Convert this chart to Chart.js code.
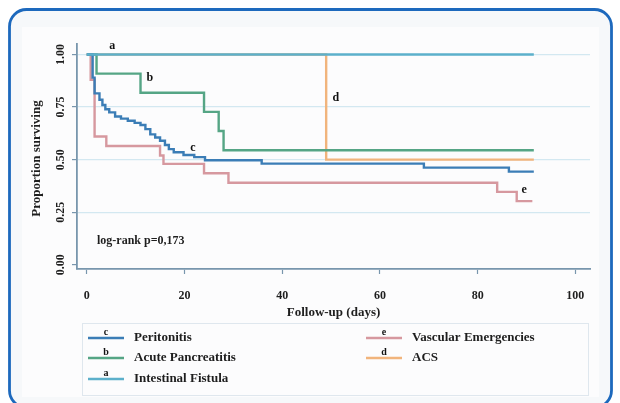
<!DOCTYPE html>
<html><head><meta charset="utf-8">
<script src="https://cdn.jsdelivr.net/npm/chart.js@4/dist/chart.umd.min.js"></script>
<style>html,body{margin:0;padding:0;background:#fff;overflow:hidden}#wrap{position:relative;width:620px;height:403px}canvas{display:block}</style>
</head><body><div id="wrap"><canvas id="c" width="620" height="403"></canvas></div>
<script>
// ---- data ----
const seriesNames   = ['Peritonitis', 'Acute Pancreatitis', 'Intestinal Fistula', 'Vascular Emergencies', 'ACS'];
const seriesLetters = ['c', 'b', 'a', 'e', 'd'];
const peritonitisDays = [0, 1.2, 1.6, 2.6, 3.2, 3.8, 4.6, 5.8, 7, 8.4, 9.8, 11, 12, 13, 14, 15, 16, 16.8, 17.8, 19.8, 22, 24.2, 35.8, 69, 86.4, 91.5];
const peritonitisSurv = [1, 0.89, 0.815, 0.785, 0.76, 0.74, 0.725, 0.705, 0.695, 0.685, 0.675, 0.665, 0.645, 0.62, 0.605, 0.59, 0.57, 0.55, 0.535, 0.522, 0.512, 0.497, 0.481, 0.462, 0.443, 0.443];
const pancreatitisDays = [0, 2, 11, 24, 27, 28, 91.5];
const pancreatitisSurv = [1, 0.909, 0.818, 0.727, 0.636, 0.545, 0.545];
const fistulaDays = [0, 91.5];
const fistulaSurv = [1, 1];
const vascularDays = [0, 0.8, 1.6, 4, 15, 15.7, 24, 29, 84, 88, 91.2];
const vascularSurv = [1, 0.88, 0.61, 0.565, 0.52, 0.48, 0.435, 0.39, 0.347, 0.303, 0.303];
const acsDays = [0, 49, 91.5];
const acsSurv = [1, 0.5, 0.5];
const xTicks = [0, 20, 40, 60, 80, 100];
const yTicks = [0, 0.25, 0.5, 0.75, 1];
const yTickLabels = ['0.00', '0.25', '0.50', '0.75', '1.00'];
const xTitle = 'Follow-up (days)';
const yTitle = 'Proportion surviving';
const noteText = 'log-rank p=0,173';

// ---- styles ----
const colors = ['#3b7db6', '#55a585', '#5cb0cb', '#d6989f', '#f1b47c'];
const axisColor = '#7896ad';
const gridColor = '#d3e8f1';
const textColor = '#1e1e1e';
const serif = '"Liberation Serif", "DejaVu Serif", serif';

const days = [peritonitisDays, pancreatitisDays, fistulaDays, vascularDays, acsDays];
const surv = [peritonitisSurv, pancreatitisSurv, fistulaSurv, vascularSurv, acsSurv];
const drawOrder = [1, 2, 0, 3, 4];

const datasets = seriesNames.map((name, i) => ({
  label: name,
  data: days[i].map((d, k) => ({x: d, y: surv[i][k]})),
  borderColor: colors[i],
  backgroundColor: colors[i],
  borderWidth: 2.4,
  pointRadius: 0,
  stepped: true,
  fill: false,
  order: drawOrder[i]
}));

// label anchors in data units
const curveLabels = [
  {t: 'c', x: 21.7, y: 0.555},
  {t: 'b', x: 12.9, y: 0.888},
  {t: 'a', x: 5.2, y: 1.04},
  {t: 'e', x: 89.5, y: 0.356},
  {t: 'd', x: 51, y: 0.793}
];

const framePlugin = {
  id: 'frame',
  beforeDraw(chart) {
    const ctx = chart.ctx;
    ctx.save();
    ctx.fillStyle = '#ffffff';
    ctx.fillRect(0, 0, chart.width, chart.height);
    ctx.beginPath();
    ctx.roundRect(9.5, 9.5, 602, 398, 17);
    ctx.fillStyle = '#f6f8fa';
    ctx.fill();
    ctx.fillStyle = '#fcfcfd';
    ctx.fillRect(22, 27, 577, 370);
    ctx.lineWidth = 2.8;
    ctx.strokeStyle = '#1d69bd';
    ctx.beginPath();
    ctx.roundRect(9.5, 9.5, 602, 398, 17);
    ctx.stroke();
    ctx.restore();
  }
};

const textPlugin = {
  id: 'texts',
  afterDraw(chart) {
    const ctx = chart.ctx;
    const xs = chart.scales.x, ys = chart.scales.y;
    ctx.save();
    ctx.fillStyle = textColor;
    // y tick labels, rotated
    ctx.font = 'bold 12px ' + serif;
    ctx.textAlign = 'center';
    ctx.textBaseline = 'middle';
    yTicks.forEach((v, i) => {
      ctx.save();
      ctx.translate(61, ys.getPixelForValue(v));
      ctx.rotate(-Math.PI / 2);
      ctx.fillText(yTickLabels[i], 0, 0);
      ctx.restore();
    });
    // axis titles
    ctx.font = 'bold 13px ' + serif;
    ctx.save();
    ctx.translate(37, (ys.top + ys.bottom) / 2 + 2);
    ctx.rotate(-Math.PI / 2);
    ctx.fillText(yTitle, 0, 0);
    ctx.restore();
    ctx.fillText(xTitle, (xs.left + xs.right) / 2, 313);
    // note
    ctx.font = 'bold 12px ' + serif;
    ctx.textAlign = 'left';
    ctx.fillText(noteText, 97, 241);
    // curve letters
    ctx.font = 'bold 12px ' + serif;
    ctx.textAlign = 'center';
    ctx.fillStyle = '#111';
    curveLabels.forEach(l => ctx.fillText(l.t, xs.getPixelForValue(l.x), ys.getPixelForValue(l.y)));
    // legend
    ctx.strokeStyle = '#dfe7ee';
    ctx.lineWidth = 1;
    ctx.strokeRect(82.5, 323.5, 506, 72);
    const legendPos = [[88, 338], [88, 358], [88, 379], [366, 338], [366, 358]];
    seriesNames.forEach((name, i) => {
      const [lx, ly] = legendPos[i];
      ctx.strokeStyle = colors[i];
      ctx.lineWidth = 2.4;
      ctx.beginPath(); ctx.moveTo(lx, ly); ctx.lineTo(lx + 36, ly); ctx.stroke();
      ctx.fillStyle = '#111';
      ctx.font = 'bold 10px ' + serif;
      ctx.textAlign = 'center';
      ctx.fillText(seriesLetters[i], lx + 18, ly - 6);
      ctx.fillStyle = textColor;
      ctx.font = 'bold 13px ' + serif;
      ctx.textAlign = 'left';
      ctx.fillText(name, lx + 46, ly);
    });
    ctx.restore();
  }
};

new Chart(document.getElementById('c'), {
  type: 'line',
  data: {datasets},
  options: {
    responsive: false,
    animation: false,
    events: [],
    layout: {padding: {left: 0, right: 30, top: 44, bottom: 0}},
    plugins: {legend: {display: false}, tooltip: {enabled: false}},
    scales: {
      x: {
        type: 'linear', min: -2, max: 103,
        afterBuildTicks: s => { s.ticks = xTicks.map(v => ({value: v})); },
        afterFit: s => { s.height = 403 - 269; },
        grid: {drawOnChartArea: false, drawTicks: true, tickLength: 5, tickColor: axisColor, tickWidth: 1.2},
        border: {display: true, color: axisColor, width: 1.8},
        ticks: {font: {family: serif, weight: 'bold', size: 12}, color: textColor, padding: 15, maxRotation: 0, minRotation: 0}
      },
      y: {
        type: 'linear', min: -0.02, max: 1.05,
        afterBuildTicks: s => { s.ticks = yTicks.map(v => ({value: v})); },
        afterFit: s => { s.width = 77; },
        grid: {
          color: c => (c.tick && c.tick.value === 0) ? 'rgba(0,0,0,0)' : gridColor,
          lineWidth: 1.2,
          drawTicks: true, tickLength: 5, tickColor: axisColor, tickWidth: 1.2
        },
        border: {display: true, color: axisColor, width: 1.8},
        ticks: {display: false}
      }
    }
  },
  plugins: [framePlugin, textPlugin]
});
</script>
</body></html>
